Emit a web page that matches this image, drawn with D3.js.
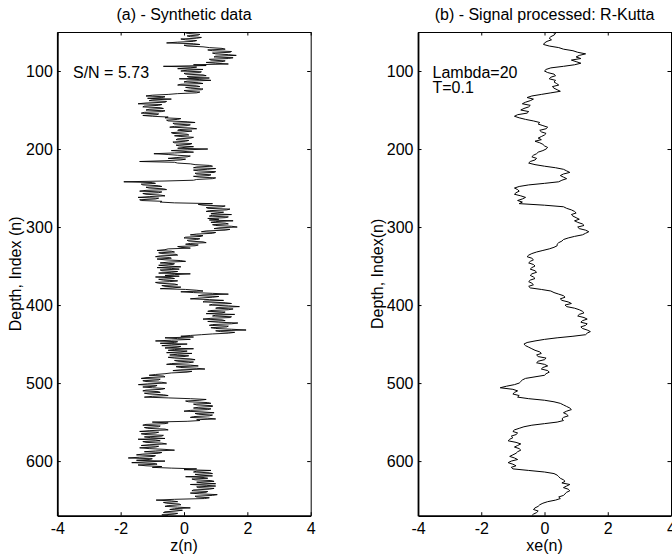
<!DOCTYPE html>
<html>
<head>
<meta charset="utf-8">
<script src="https://cdn.jsdelivr.net/npm/d3@7"></script>
<style>
  body { margin: 0; background: #fff; }
  svg { display: block; font-family: "Liberation Sans", Arial, Helvetica, sans-serif; }
</style>
</head>
<body>
<svg id="chart" width="672" height="559"></svg>
<script>
// ---- Data ----
// Panel (a): synthetic noisy data z(n), depth index n = 50, 51, ..., 670
const depthStartA = 50;
const depthStepA = 1;
const synthetic = [
  0.35, 0.05, 0.15, 0.5, 0.45, 0.1, 0.2, 0.55, 0.4, -0.1, 0.05, 0.4, 0.3, -0.2, -0.55, 0.3, 0.5, 0.0, 0.1, 0.6,
  0.8, 1.2, 1.3, 0.75, 0.9, 1.5, 1.45, 0.9, 1.0, 1.4, 1.65, 1.0, 0.95, 1.55, 1.4, 0.8, 0.85, 1.3, 1.2, 0.7,
  1.0, 1.4, 0.3, 0.7, -0.65, 0.4, 0.2, -0.2, 0.6, 0.1, -0.1, 0.55, 0.5, 0.0, 0.05, 0.6, 0.7, 0.1, 0.15, 0.8,
  -0.15, 0.5, 0.85, 0.1, 0.0, 0.45, 0.6, -0.1, -0.2, 0.4, 0.5, 0.05, 0.2, 0.6, 0.55, 0.0, 0.1, 0.5, 0.4, -0.2,
  -0.5, -1.0, -1.2, -0.6, -0.7, -1.15, -0.4, -1.0, -1.1, -0.55, -0.6, -1.2, -1.45, -0.7, -0.8, -1.25, -1.3, -0.75, -0.65, -1.1,
  -1.2, -0.6, -0.7, -1.25, -1.35, -0.8, -0.85, -1.3, -1.0, -0.5, -0.6, -0.1, -0.2, -0.55, -0.5, 0.1, 0.35, -0.35, -0.3, 0.2,
  0.1, -0.3, -0.45, 0.2, 0.4, -0.15, -0.2, 0.25, 0.0, -0.4, -0.35, 0.1, 0.15, -0.3, -0.1, 0.3, 0.2, -0.2, -0.25, 0.15,
  0.05, -0.35, -0.3, 0.25, 0.2, -0.25, -0.15, 0.3, 0.0, -0.2, 0.75, 0.1, -0.4, 0.0, 0.3, -0.3, -0.95, -0.5, -0.2, 0.2,
  0.1, -0.25, -0.5, 0.05, -0.1, -0.6, -1.4, -0.3, -0.2, 0.2, 0.35, 0.8, 0.9, 0.4, 0.3, 1.0, 0.75, 0.3, 0.45, 1.0,
  0.95, 0.35, 0.4, 0.85, 0.8, 0.3, 0.5, 1.0, 0.9, 0.4, 0.3, -0.6, -1.9, -1.0, -0.9, -1.35, -1.3, -0.8, -0.7, -1.2,
  -1.1, -0.65, -0.55, -1.2, -1.4, -0.7, -0.8, -1.3, -1.2, -0.75, -0.6, -1.1, -1.45, -0.8, -0.9, -1.4, -1.35, -0.7, -0.75, -0.3,
  0.9, 0.45, 0.6, 1.3, 1.2, 0.7, 0.75, 1.45, 1.35, 0.8, 0.7, 1.25, 1.05, 0.85, 1.5, 0.9, 0.8, 1.4, 1.3, 0.75,
  1.1, 0.8, 1.55, 1.0, 0.85, 1.3, 1.4, 0.9, 1.0, 1.5, 1.68, 1.1, 0.95, 1.45, 1.3, 0.7, 0.55, 1.0, 0.9, 0.4,
  0.2, 0.6, 0.55, 0.05, 0.0, 0.5, 0.4, 0.1, 0.15, 0.6, 0.7, 0.2, 0.05, 0.45, 0.35, -0.2, -0.1, 0.2, -0.5, -0.6,
  -0.85, -0.4, -0.3, -0.8, -0.7, -0.25, -0.2, -0.75, -0.9, -0.45, -0.4, -0.85, -0.6, -0.1, 0.05, -0.5, -0.75, -0.3, -0.35, -0.8,
  -0.5, -0.1, -0.85, -0.4, -0.15, -0.75, -0.7, -0.2, -0.4, -0.8, 0.2, -0.3, -0.6, -0.15, -0.9, -0.4, -0.3, -0.8, -0.65, -0.2,
  -0.45, -0.9, -0.8, -0.3, -0.2, -0.7, -0.6, -0.1, -0.35, -0.75, 0.05, 0.4, 0.6, -0.1, 0.3, 0.9, 1.4, 0.6, 0.45, 1.1,
  0.9, 0.5, 0.2, 0.8, 1.25, 0.65, 0.6, 1.3, 1.5, 0.9, 0.8, 1.4, 1.75, 1.1, 1.0, 1.55, 1.4, 0.85, 0.75, 1.3,
  1.2, 0.7, 1.6, 1.0, 0.9, 1.5, 1.45, 0.85, 0.6, 1.2, 1.3, 0.75, 1.1, 1.7, 1.5, 0.9, 0.8, 1.4, 1.35, 0.85,
  1.0, 1.5, 1.96, 1.0, 1.15, 1.6, 1.4, 0.9, 0.55, 0.2, -0.1, 0.3, -0.6, -0.2, 0.2, -0.4, -0.9, -0.2, -0.3, -0.75,
  0.1, -0.4, -0.7, -0.1, -0.2, -0.6, 0.3, -0.3, -0.5, 0.1, -0.1, -0.55, 0.25, -0.2, -0.45, 0.15, 0.0, -0.5, -0.3, 0.2,
  0.35, -0.3, -0.2, 0.3, 0.15, -0.4, -0.55, 0.2, 0.45, -0.25, -0.1, 0.4, 0.66, -0.1, -0.35, 0.25, 0.1, -0.4, -0.6, -0.9,
  -1.1, -0.65, -0.6, -1.2, -1.35, -0.75, -0.8, -1.3, -1.2, -0.7, -0.55, -1.15, -1.44, -0.85, -0.9, -1.3, -1.0, -0.6, -0.7, -1.2,
  -1.3, -0.8, -0.75, -1.25, -1.1, -0.65, -0.5, -1.0, -1.25, -0.5, 0.2, 0.7, 0.5, 0.05, 0.15, 0.75, 0.85, 0.3, 0.4, 0.9,
  0.9, 0.45, 0.3, 0.85, 0.75, 0.2, 0.0, 0.6, 0.95, 0.35, 0.45, 0.9, 0.8, 0.3, 0.2, 0.75, 1.0, 0.4, 0.5, 0.1,
  -1.0, -0.5, -0.6, -1.2, -1.3, -0.75, -0.8, -1.25, -1.15, -0.6, -0.5, -1.1, -1.4, -0.8, -0.9, -1.35, -1.2, -0.65, -0.7, -1.25,
  -1.05, -0.6, -1.45, -0.9, -0.75, -1.3, -1.2, -0.7, -0.55, -1.1, -1.35, -0.8, -0.9, -1.4, -1.1, -0.6, -0.3, -0.9, -1.25, -0.7,
  -0.8, -1.3, -1.5, -0.9, -0.95, -1.4, -1.76, -1.0, -1.1, -1.5, -0.6, -1.2, -1.65, -0.9, -0.85, -1.45, -1.2, -0.7, -1.0, -0.4,
  0.4, 0.0, 0.85, 0.4, 0.3, 0.8, 0.9, 0.35, 0.5, 0.9, 0.05, 0.6, 0.75, 0.25, 0.35, 0.85, 0.95, 0.4, 0.6, 1.0,
  0.2, 0.7, 1.0, 0.4, 0.45, 0.95, 0.8, 0.3, 0.25, 0.75, 0.7, 0.2, 0.5, 1.05, 0.9, 0.35, 0.4, 0.8, 0.65, -0.3,
  -0.88, -0.4, -0.2, -0.65, -0.55, -0.15, -0.1, -0.5, -0.6, -0.2, 0.2, -0.3, -0.45, -0.05, -0.25, -0.6, -0.65, -0.2, -0.3, -0.7,
  -0.5
];

// Panel (b): processed signal xe(n), depth index n = 50, 52, ..., 670
const depthStartB = 50;
const depthStepB = 2;
const processed = [
  0.23, 0.35, 0.3, 0.2, 0.15, 0.22, 0.08, 0.0, -0.03, 0.15, 0.45, 0.6, 0.9, 1.05, 1.3, 1.1, 1.0, 1.15, 0.85, 1.0,
  1.15, 0.95, 0.6, 0.2, 0.05, 0.0, 0.1, 0.3, 0.35, 0.2, 0.15, 0.35, 0.3, 0.38, 0.45, 0.25, 0.3, 0.4, 0.5, 0.2,
  -0.1, -0.4, -0.55, -0.35, -0.45, -0.6, -0.7, -0.45, -0.5, -0.65, -0.75, -0.5, -0.55, -0.85, -0.95, -0.8, -0.6, -0.35, -0.15, -0.2,
  -0.05, 0.1, 0.05, -0.15, -0.1, 0.05, 0.0, -0.1, -0.2, -0.1, -0.3, -0.15, -0.05, 0.0, 0.1, 0.05, -0.05, -0.2, -0.25, -0.35,
  -0.4, -0.25, -0.3, -0.45, -0.5, -0.3, 0.0, 0.35, 0.6, 0.7, 0.8, 0.6, 0.5, 0.6, 0.7, 0.55, 0.45, 0.0, -0.5, -0.8,
  -0.95, -0.85, -0.8, -0.9, -0.95, -0.75, -0.6, -0.7, -0.85, -0.7, -0.8, 0.0, 0.6, 0.7, 0.85, 0.95, 1.0, 0.85, 0.9, 1.0,
  1.1, 0.95, 1.05, 1.2, 1.25, 1.05, 1.1, 1.3, 1.4, 1.3, 1.2, 0.95, 0.75, 0.6, 0.55, 0.45, 0.4, 0.4, 0.3, 0.15,
  -0.05, -0.25, -0.4, -0.5, -0.55, -0.4, -0.35, -0.45, -0.5, -0.35, -0.3, -0.4, -0.45, -0.3, -0.25, -0.4, -0.45, -0.35, -0.3, -0.45,
  -0.5, -0.4, -0.35, -0.5, -0.45, -0.1, 0.2, 0.3, 0.45, 0.6, 0.65, 0.5, 0.55, 0.75, 0.85, 0.65, 0.7, 0.95, 1.1, 1.2,
  1.25, 1.1, 1.05, 1.25, 1.35, 1.2, 1.15, 1.35, 1.3, 1.15, 1.2, 1.35, 1.45, 1.35, 1.3, 0.9, 0.4, 0.0, -0.3, -0.55,
  -0.65, -0.6, -0.5, -0.4, -0.3, -0.15, -0.1, -0.25, -0.2, 0.05, 0.0, -0.2, -0.25, 0.0, 0.1, -0.05, -0.1, 0.1, 0.15, 0.05,
  0.0, -0.3, -0.6, -0.7, -0.75, -0.8, -0.95, -1.2, -1.4, -1.0, -0.85, -0.95, -1.0, -0.8, -0.85, -0.5, 0.0, 0.3, 0.5, 0.6,
  0.7, 0.8, 0.85, 0.7, 0.6, 0.7, 0.75, 0.6, 0.55, 0.6, 0.4, 0.0, -0.4, -0.65, -0.8, -0.95, -1.0, -0.85, -0.9, -1.05,
  -1.0, -1.1, -1.15, -0.9, -0.75, -0.85, -0.95, -0.8, -0.75, -0.85, -0.9, -1.0, -1.1, -0.95, -0.85, -1.05, -1.15, -1.0, -0.9, -1.05,
  -1.0, -0.5, 0.0, 0.3, 0.4, 0.45, 0.5, 0.6, 0.65, 0.55, 0.8, 0.7, 0.6, 0.75, 0.8, 0.7, 0.65, 0.6, 0.45, 0.5,
  0.35, 0.1, -0.05, -0.15, -0.2, -0.3, -0.35, -0.2, -0.25, -0.35, -0.4
];

const xTicks = [-4, -2, 0, 2, 4];
const yTicks = [100, 200, 300, 400, 500, 600];
const xDomain = [-4, 4];
const yDomain = [50, 670];

const panels = [
  { title: "(a) - Synthetic data", xLabel: "z(n)", yLabel: "Depth, Index (n)",
    values: synthetic, start: depthStartA, step: depthStepA, lw: 0.9,
    notes: ["S/N = 5.73"], left: 57.3, right: 310.7, yLabX: 21, noteX: 73 },
  { title: "(b) - Signal processed: R-Kutta", xLabel: "xe(n)", yLabel: "Depth, Index(n)",
    values: processed, start: depthStartB, step: depthStepB, lw: 1,
    notes: ["Lambda=20", "T=0.1"], left: 418, right: 671, yLabX: 383, noteX: 432.5 }
];

const svg = d3.select("#chart");
const plotTop = 32, plotBottom = 515.7;
const fs = 16;
const fmt = d => String(d);

panels.forEach(p => {
  const x = d3.scaleLinear().domain(xDomain).range([p.left, p.right]);
  const y = d3.scaleLinear().domain(yDomain).range([plotTop, plotBottom]);
  const g = svg.append("g");

  const pts = p.values.map((v, i) => [p.start + i * p.step, v]);
  const line = d3.line().x(d => x(d[1])).y(d => y(d[0]));

  const cid = "clip" + Math.round(p.left);
  svg.append("clipPath").attr("id", cid).append("rect")
    .attr("x", p.left).attr("y", plotTop).attr("width", p.right - p.left).attr("height", plotBottom - plotTop);

  g.append("path").datum(pts)
    .attr("clip-path", `url(#${cid})`)
    .attr("d", line)
    .attr("fill", "none").attr("stroke", "#000").attr("stroke-width", p.lw)
    .attr("stroke-linejoin", "miter");

  const ax = (axis) => axis.tickSizeInner(-3.5).tickSizeOuter(0).tickPadding(5);
  const bottomAx = g.append("g").attr("transform", `translate(0,${plotBottom})`)
    .call(ax(d3.axisBottom(x).tickValues(xTicks).tickFormat(fmt)).tickPadding(7));
  const topAx = g.append("g").attr("transform", `translate(0,${plotTop})`)
    .call(ax(d3.axisTop(x).tickValues(xTicks)).tickFormat(""));
  const leftAx = g.append("g").attr("transform", `translate(${p.left},0)`)
    .call(ax(d3.axisLeft(y).tickValues(yTicks).tickFormat(fmt)).tickPadding(4.5));
  const rightAx = g.append("g").attr("transform", `translate(${p.right},0)`)
    .call(ax(d3.axisRight(y).tickValues(yTicks)).tickFormat(""));

  [bottomAx, topAx, leftAx, rightAx].forEach(a => {
    a.selectAll("text").attr("font-size", fs).attr("fill", "#000")
      .attr("font-family", "'Liberation Sans', Arial, sans-serif");
    a.selectAll("line").attr("stroke", "#000");
    a.select(".domain").attr("stroke", "#000");
  });
  bottomAx.select(".domain").attr("stroke-width", 1.8);
  leftAx.select(".domain").attr("stroke-width", 1.8);
  topAx.select(".domain").attr("stroke-width", 1);
  rightAx.select(".domain").attr("stroke-width", 1);

  svg.append("text").attr("x", (p.left + p.right) / 2).attr("y", 20)
    .attr("text-anchor", "middle").attr("font-size", fs).text(p.title);
  svg.append("text").attr("x", (p.left + p.right) / 2).attr("y", 551)
    .attr("text-anchor", "middle").attr("font-size", fs).text(p.xLabel);
  svg.append("text").attr("transform", `translate(${p.yLabX},${(plotTop + plotBottom) / 2}) rotate(-90)`)
    .attr("text-anchor", "middle").attr("font-size", fs).text(p.yLabel);
  const note = svg.append("text").attr("x", p.noteX).attr("y", 78.3).attr("font-size", fs);
  p.notes.forEach((t, i) => {
    note.append("tspan").attr("x", p.noteX).attr("dy", i === 0 ? 0 : 14.5).text(t);
  });
});
</script>
</body>
</html>
